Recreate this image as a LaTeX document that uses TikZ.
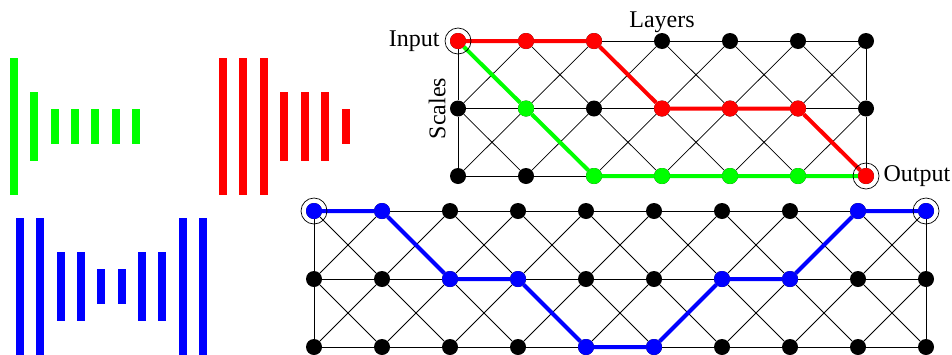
\documentclass[tikz,border=0pt]{standalone}
\usepackage{fontspec}
\setmainfont{Liberation Serif}
\usetikzlibrary{positioning}

\begin{document}
\begin{tikzpicture}[x=1pt,y=-1pt,font=\fontsize{24}{28}\selectfont,
 vtx/.style={circle,fill=black,inner sep=0pt,minimum size=16pt},
 halo/.style={circle,draw,line width=0.7pt,inner sep=0pt,minimum size=26pt},
 lbl/.style={inner sep=0pt},
 mesh/.style={line width=0.75pt},
 route/.style={line width=4pt}]
 \useasboundingbox (0,0) rectangle (952,354);
 % bars: one per layer, height halves with the scale
 \foreach \s [count=\k from 0] in {0,1,2,2,2,2,2}
  \fill[green] ({10+20.35*\k},{126.5-68.5/2^\s}) rectangle ++(8,{137/2^\s});
 \foreach \s [count=\k from 0] in {0,0,0,1,1,1,2}
  \fill[red] ({219+20.45*\k},{126.5-68.5/2^\s}) rectangle ++(8,{137/2^\s});
 \foreach \s [count=\k from 0] in {0,0,1,1,2,2,1,1,0,0}
  \fill[blue] ({16+20.35*\k},{286.5-68.5/2^\s}) rectangle ++(8,{137/2^\s});
 % top grid
 \foreach \i in {0,...,6} \foreach \j in {0,1,2}
  \node[vtx] (t-\i-\j) at ({458+68*\i},{41+67.5*\j}) {};
 \foreach \i in {0,...,5} {
  \pgfmathtruncatemacro\nx{\i+1}
  \foreach \j in {0,1,2} \draw[mesh] (t-\i-\j) -- (t-\nx-\j);
  \foreach \j in {0,1} {
   \pgfmathtruncatemacro\ny{\j+1}
   \draw[mesh] (t-\i-\j) -- (t-\nx-\ny);
   \draw[mesh] (t-\i-\ny) -- (t-\nx-\j);
  }
 }
 \draw[mesh] (t-0-0) -- (t-0-1) -- (t-0-2) (t-6-0) -- (t-6-1) -- (t-6-2);
 \draw[route,green] (t-0-0) -- (t-1-1) -- (t-2-2) -- (t-3-2) -- (t-4-2) -- (t-5-2) -- (t-6-2);
 \draw[route,red] (t-0-0) -- (t-1-0) -- (t-2-0) -- (t-3-1) -- (t-4-1) -- (t-5-1) -- (t-6-2);
 \foreach \p in {1-1,2-2,3-2,4-2,5-2} \node[vtx,fill=green] at (t-\p) {};
 \foreach \p in {0-0,1-0,2-0,3-1,4-1,5-1,6-2} \node[vtx,fill=red] at (t-\p) {};
 \node[halo] (inring) at (t-0-0) {};
 \node[halo] (outring) at (t-6-2) {};
 \node[lbl,left=5pt of inring] (input) {Input};
 \node[lbl,right=4pt of outring] (output) {Output};
 \node[lbl,above=0pt of t-3-0] (layers) {Layers};
 \node[lbl,rotate=90,anchor=south] (scales) at ([xshift=-4pt]t-0-1.west) {Scales};
 % bottom grid
 \foreach \i in {0,...,9} \foreach \j in {0,1,2}
  \node[vtx] (b-\i-\j) at ({314+68*\i},{211+68*\j}) {};
 \foreach \i in {0,...,8} {
  \pgfmathtruncatemacro\nx{\i+1}
  \foreach \j in {0,1,2} \draw[mesh] (b-\i-\j) -- (b-\nx-\j);
  \foreach \j in {0,1} {
   \pgfmathtruncatemacro\ny{\j+1}
   \draw[mesh] (b-\i-\j) -- (b-\nx-\ny);
   \draw[mesh] (b-\i-\ny) -- (b-\nx-\j);
  }
 }
 \draw[mesh] (b-0-0) -- (b-0-1) -- (b-0-2) (b-9-0) -- (b-9-1) -- (b-9-2);
 \draw[route,blue] (b-0-0) -- (b-1-0) -- (b-2-1) -- (b-3-1) -- (b-4-2) -- (b-5-2) -- (b-6-1) -- (b-7-1) -- (b-8-0) -- (b-9-0);
 \foreach \p in {0-0,1-0,2-1,3-1,4-2,5-2,6-1,7-1,8-0,9-0} \node[vtx,fill=blue] at (b-\p) {};
 \node[halo] (startring) at (b-0-0) {};
 \node[halo] (endring) at (b-9-0) {};
\end{tikzpicture}
\end{document}
